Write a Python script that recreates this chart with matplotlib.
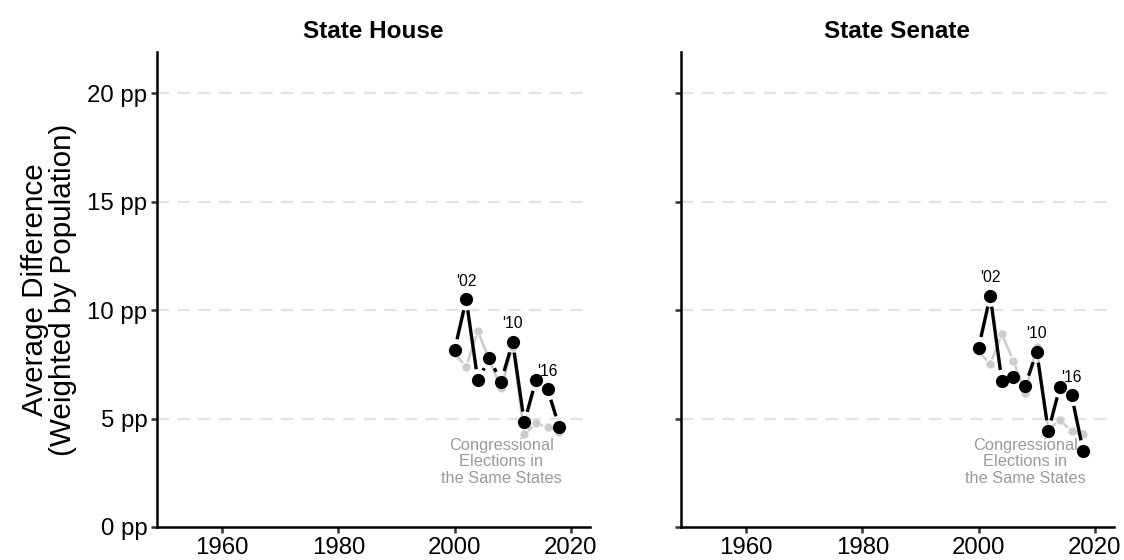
import numpy as np
import matplotlib
matplotlib.use("Agg")
import matplotlib.pyplot as plt

plt.rcParams["font.family"] = ["Liberation Sans", "DejaVu Sans"]

# --- data ---------------------------------------------------------------------
years = [2000, 2002, 2004, 2006, 2008, 2010, 2012, 2014, 2016, 2018]

house_state = [8.16, 10.49, 6.77, 7.77, 6.70, 8.54, 4.82, 6.77, 6.35, 4.62]
house_congress = [8.0, 7.39, 9.03, 7.7, 6.39, 8.3, 4.27, 4.78, 4.59, 4.39]

senate_state = [8.26, 10.66, 6.74, 6.93, 6.50, 8.08, 4.42, 6.47, 6.08, 3.50]
senate_congress = [8.1, 7.51, 8.89, 7.65, 6.19, 8.3, 4.5, 4.93, 4.42, 4.27]

panel_titles = ["State House", "State Senate"]
label_years = [2002, 2010, 2016]
yticks = [0, 5, 10, 15, 20]
ytick_labels = [f"{v} pp" for v in yticks]
xticks = [1960, 1980, 2000, 2020]
note = "Congressional\nElections in\nthe Same States"

BLACK = "black"
GREY = "#cccccc"
NOTE_GREY = "#9a9a9a"


def gapped_path(ax, xs, ys, gap_px, **kw):
    """Draw line segments that stop short of each point (like geom_pointpath)."""
    pts = ax.transData.transform(np.column_stack([xs, ys]))
    inv = ax.transData.inverted()
    for p0, p1 in zip(pts[:-1], pts[1:]):
        d = p1 - p0
        n = np.hypot(*d)
        if n <= 2 * gap_px:
            continue
        u = d / n
        a = inv.transform(p0 + u * gap_px)
        b = inv.transform(p1 - u * gap_px)
        ax.plot([a[0], b[0]], [a[1], b[1]], solid_capstyle="butt", **kw)


fig = plt.figure(figsize=(11.24, 5.6), dpi=100)
ax1 = fig.add_axes([157 / 1124, 33 / 560, 433 / 1124, 475 / 560])
ax2 = fig.add_axes([681 / 1124, 33 / 560, 433 / 1124, 475 / 560])

panels = [(ax1, house_state, house_congress), (ax2, senate_state, senate_congress)]

for i, (ax, state, cong) in enumerate(panels):
    ax.set_xlim(1948.8, 2023.3)
    ax.set_ylim(0, 21.9)
    for s in ["top", "right"]:
        ax.spines[s].set_visible(False)
    for s in ["left", "bottom"]:
        ax.spines[s].set_linewidth(1.8)
        ax.spines[s].set_color("black")
    ax.set_yticks(yticks)
    ax.set_xticks(xticks)
    ax.tick_params(axis="both", length=4, width=1.8, color="#333333",
                   labelsize=17.3, pad=3)
    if i == 0:
        ax.set_yticklabels(ytick_labels)
        ax.set_ylabel("Average Difference\n(Weighted by Population)",
                      fontsize=21.3, labelpad=7, linespacing=1.02)
    else:
        ax.set_yticklabels([])
    for v in yticks[1:]:
        ax.axhline(v, color="#e3e3e3", lw=1.6, dashes=(5.5, 3.8), zorder=0)
    ax.set_title(panel_titles[i], fontsize=17.5, fontweight="bold", pad=10)

    fig.canvas.draw()
    gapped_path(ax, years, cong, 5, color=GREY, lw=1.8, zorder=2)
    ax.plot(years, cong, "o", color=GREY, ms=6, mec="none", zorder=3)
    gapped_path(ax, years, state, 11, color=BLACK, lw=2.4, zorder=4)
    ax.plot(years, state, "o", color=BLACK, ms=9.5, mec="none", zorder=5)

    for yr in label_years:
        k = years.index(yr)
        ax.annotate(f"'{str(yr)[2:]}", (yr, state[k]), xytext=(0, 13),
                    textcoords="offset points", ha="center", va="center",
                    fontsize=11.3)
    ax.text(2008, 3.0, note, ha="center", va="center", fontsize=11.8,
            color=NOTE_GREY, linespacing=1.12)

fig.savefig("out.png", dpi=100)
